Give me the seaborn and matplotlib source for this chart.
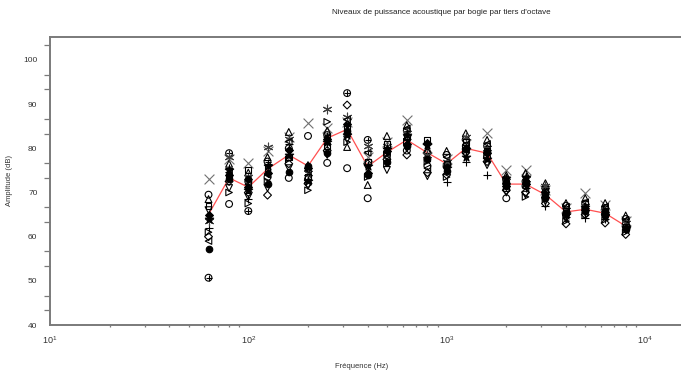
import matplotlib
matplotlib.use("Agg")
import matplotlib.pyplot as plt
from matplotlib.ticker import LogLocator, MultipleLocator, NullFormatter, FixedLocator
import numpy as np
import pandas as pd
import seaborn as sns

# Third-octave band centre frequencies (Hz)
freqs = [63, 80, 100, 125, 160, 200, 250, 315, 400, 500, 630, 800,
         1000, 1250, 1600, 2000, 2500, 3150, 4000, 5000, 6300, 8000]

# Sound power level per bogie (dB), one list per bogie
bogie_plus = [62.0, 75.5, 68.5, 76.5, 81.0, 74.0, 81.0, 83.5, 79.5, 80.0, 82.0, 78.0,
              72.4, 76.9, 73.9, 72.0, 71.0, 67.0, 64.5, 64.2, 64.0, 62.0]
bogie_cross = [73.0, 77.5, 76.6, 79.5, 82.5, 85.7, 84.5, 86.0, 78.0, 81.5, 86.4, 80.0,
               77.5, 81.0, 83.4, 75.1, 75.1, 70.5, 66.5, 69.9, 67.2, 63.5]
bogie_circle_plus = [50.7, 78.9, 65.8, 77.0, 80.0, 73.0, 83.0, 92.5, 81.9, 79.0, 84.0, 79.0,
                     76.0, 82.0, 80.5, 73.0, 72.5, 71.0, 67.0, 67.5, 66.5, 64.0]
bogie_filled_diamond = [65.0, 74.0, 71.2, 74.5, 79.6, 75.5, 82.0, 85.5, 74.5, 79.5, 81.0, 81.2,
                        76.5, 80.0, 79.0, 71.5, 72.0, 69.0, 65.5, 66.0, 65.0, 62.5]
bogie_diamond = [60.0, 72.5, 70.0, 69.4, 76.5, 72.0, 79.5, 89.8, 76.5, 77.5, 78.5, 74.5,
                 74.0, 79.0, 77.0, 70.5, 70.0, 67.5, 62.9, 65.0, 63.1, 60.5]
bogie_tri_up = [68.5, 76.5, 74.5, 78.0, 83.7, 76.2, 84.0, 80.3, 71.7, 82.8, 85.2, 79.5,
                79.4, 83.4, 81.9, 73.9, 74.4, 72.1, 67.6, 68.7, 67.6, 64.8]
bogie_tri_down = [66.0, 71.0, 69.0, 71.0, 75.5, 71.5, 78.5, 82.0, 75.5, 75.1, 80.0, 73.7,
                  75.0, 78.5, 76.2, 70.0, 69.5, 68.0, 64.0, 65.5, 64.5, 61.5]
bogie_circle = [69.5, 67.4, 72.5, 73.5, 73.3, 82.8, 76.7, 75.5, 68.7, 78.5, 79.5, 76.0,
                78.5, 80.5, 78.0, 68.7, 71.5, 70.0, 65.0, 66.5, 65.5, 62.8]
bogie_asterisk = [63.5, 78.0, 73.5, 80.3, 82.0, 74.5, 88.9, 87.1, 80.5, 80.5, 83.5, 78.5,
                  77.0, 82.5, 80.0, 72.5, 73.0, 71.5, 66.0, 67.0, 66.0, 63.2]
bogie_square = [67.0, 73.5, 75.0, 75.5, 78.0, 73.5, 80.5, 84.5, 77.0, 81.0, 82.5, 81.9,
                76.5, 81.5, 79.5, 71.0, 72.8, 69.5, 65.8, 66.2, 65.2, 62.2]
bogie_tri_right = [61.0, 70.0, 67.5, 72.5, 77.5, 70.5, 86.0, 81.4, 73.5, 76.5, 81.5, 77.0,
                   73.5, 79.5, 78.5, 72.8, 69.0, 68.5, 63.5, 64.8, 63.8, 61.0]
bogie_tri_left = [59.0, 74.5, 71.8, 74.0, 81.5, 75.0, 82.5, 86.5, 79.0, 78.0, 84.5, 75.5,
                  78.0, 80.8, 81.0, 71.8, 71.2, 70.2, 66.8, 67.8, 66.8, 63.8]
bogie_star = [64.0, 75.0, 70.5, 76.0, 78.5, 72.5, 81.5, 83.0, 76.0, 79.8, 83.0, 80.7,
              75.5, 78.0, 77.5, 73.2, 73.5, 69.8, 64.8, 66.8, 64.8, 62.0]
bogie_dot = [57.2, 73.0, 73.0, 72.0, 74.6, 76.0, 79.0, 84.0, 74.0, 77.0, 80.5, 77.5,
             74.8, 79.8, 79.2, 72.2, 72.3, 68.8, 65.3, 65.8, 65.8, 61.8]

# Average spectrum over all bogies (dB)
mean_level = [65.0, 73.3, 71.2, 75.3, 78.5, 76.0, 82.3, 84.3, 75.9, 79.1, 81.9, 79.0,
              76.5, 80.0, 78.9, 71.9, 71.9, 69.5, 65.6, 66.2, 65.3, 62.4]

xtick_values = [10, 100, 1000, 10000]
xtick_labels = [r"$10^{1}$", r"$10^{2}$", r"$10^{3}$", r"$10^{4}$"]
ytick_values = [40, 50, 60, 70, 80, 90, 100]

title_text = "Niveaux de puissance acoustique par bogie par tiers d'octave"
xlabel_text = "Fréquence (Hz)"
ylabel_text = "Amplitude (dB)"

# values, marker, filled, size, colour
series = [
    (bogie_plus, "+", True, 30, "black"),
    (bogie_cross, "x", True, 50, "#707070"),
    (bogie_circle_plus, "o", False, 24, "black"),
    (bogie_circle_plus, "+", True, 24, "black"),
    (bogie_filled_diamond, "D", True, 16, "black"),
    (bogie_diamond, "D", False, 16, "black"),
    (bogie_tri_up, "^", False, 24, "black"),
    (bogie_tri_down, "v", False, 24, "black"),
    (bogie_circle, "o", False, 24, "black"),
    (bogie_asterisk, (6, 2, 0), True, 40, "#404040"),
    (bogie_square, "s", False, 18, "black"),
    (bogie_tri_right, ">", False, 22, "black"),
    (bogie_tri_left, "<", False, 22, "black"),
    (bogie_star, "*", True, 40, "black"),
    (bogie_dot, "o", True, 22, "black"),
]

sns.set_style("white")
plt.rcParams["font.family"] = ["Liberation Sans", "DejaVu Sans"]
plt.rcParams["mathtext.fontset"] = "custom"
plt.rcParams["mathtext.rm"] = "Liberation Sans"
plt.rcParams["mathtext.it"] = "Liberation Sans"

W, H = 681, 378
fig = plt.figure(figsize=(W / 100, H / 100), dpi=100)
ax_left, ax_bottom = 50 / W, 1 - 325 / H
ax = fig.add_axes([ax_left, ax_bottom, 1.0 - ax_left, (325 - 37) / H])

freq_arr = np.array(freqs)
mean_df = pd.DataFrame({"f": freq_arr, "level": mean_level})
sns.lineplot(data=mean_df, x="f", y="level", ax=ax, color="#ff5050",
             linewidth=0.9, zorder=2)

for values, marker, filled, size, col in series:
    df = pd.DataFrame({"f": freq_arr, "level": values})
    sns.scatterplot(data=df, x="f", y="level", ax=ax, marker=marker, s=size,
                    color=col, facecolor=col if filled else "none",
                    edgecolor=col, linewidth=0.8, zorder=3, legend=False)

ax.set_xscale("log")
ax.set_xlim(10, 10 ** (1 + 631 / 198.3))
ax.set_ylim(40, 40 + (325 - 37) / 4.417)

ax.xaxis.set_major_locator(FixedLocator(xtick_values))
ax.set_xticks(xtick_values)
ax.set_xticklabels(xtick_labels)
ax.xaxis.set_minor_locator(LogLocator(base=10, subs=np.arange(2, 10)))
ax.xaxis.set_minor_formatter(NullFormatter())
ax.set_yticks(ytick_values)
ax.set_yticklabels([str(v) for v in ytick_values])
ax.yaxis.set_minor_locator(MultipleLocator(10 / 3))

ax.set_xlabel("")
ax.set_ylabel("")

spine_color = "#7a7a7a"
for side in ["left", "top", "bottom"]:
    ax.spines[side].set_visible(True)
    ax.spines[side].set_color(spine_color)
    ax.spines[side].set_linewidth(1.4)
ax.spines["right"].set_visible(False)

ax.tick_params(axis="y", which="major", direction="out", length=7, width=0.9,
               color=spine_color, labelsize=6, labelcolor="#333333", pad=2)
ax.tick_params(axis="y", which="minor", direction="out", length=4.5, width=0.9,
               color=spine_color, left=True)
ax.tick_params(axis="x", which="major", direction="out", length=3, width=0.9,
               color=spine_color, labelsize=6.5, labelcolor="#333333", pad=4)
ax.tick_params(axis="x", which="minor", direction="out", length=1.6, width=0.9,
               color=spine_color, bottom=True)

fig.text(441 / W, 1 - 12 / H, title_text, ha="center", va="center",
         fontsize=5.8, color="#222222")
fig.text(362 / W, 1 - 367 / H, xlabel_text, ha="center", va="center",
         fontsize=5.5, color="#333333")
fig.text(10 / W, 1 - 181 / H, ylabel_text, ha="center", va="center",
         rotation=90, fontsize=5.5, color="#333333")

fig.savefig("out.png", dpi=100, facecolor="white")
